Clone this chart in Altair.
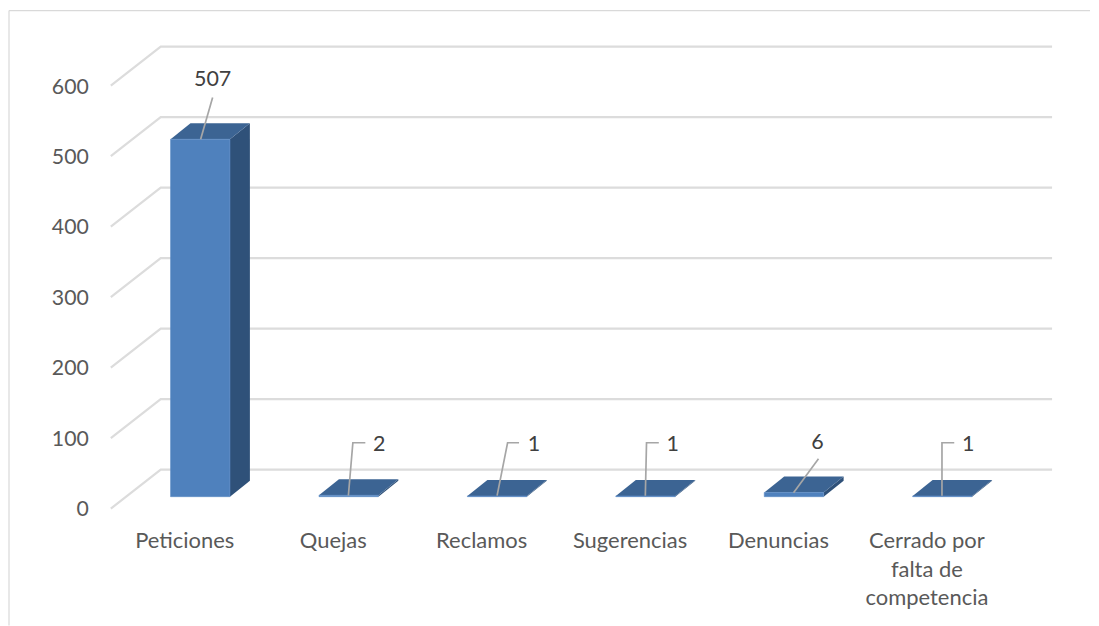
import altair as alt
import pandas as pd

# ---- chart values
CATEGORIES = ["Peticiones", "Quejas", "Reclamos", "Sugerencias", "Denuncias", "Cerrado por falta de competencia"]
VALUES = [507, 2, 1, 1, 6, 1]
TICKS = [0, 100, 200, 300, 400, 500, 600]
CATEGORY_LINES = [["Peticiones"], ["Quejas"], ["Reclamos"], ["Sugerencias"], ["Denuncias"],
                  ["Cerrado por", "falta de", "competencia"]]

# ---- layout: page pixels of the reference
W, H = 1083, 618
PAGE = 8
SLOT = 148.7          # px between categories
X0 = 199.6            # page x of first bar centre
Y0 = 497.0            # page y of value 0 at the bars' front
PPV = 0.7063          # px per value unit
BAR_W = 59.5 / SLOT
DEP_X = 20 / SLOT
DEP_Y = 16 / PPV


def px(x):
    return (x - X0) / SLOT


def py(y):
    return (Y0 - y) / PPV


X_SCALE = alt.Scale(domain=[px(PAGE), px(PAGE + W)], nice=False, zero=False)
Y_SCALE = alt.Scale(domain=[py(PAGE + H), py(PAGE)], nice=False, zero=False)
X = lambda f="x": alt.X(f"{f}:Q", scale=X_SCALE, axis=None, title=None)
Y = lambda f="y": alt.Y(f"{f}:Q", scale=Y_SCALE, axis=None, title=None)

# gridlines: floor-front -> back wall -> right end
FRONT_SHIFT = py(509)
BACK_SHIFT = py(470)
grid = []
for t in TICKS:
    grid += [
        {"t": t, "o": 0, "x": px(110), "y": t + FRONT_SHIFT},
        {"t": t, "o": 1, "x": px(160), "y": t + BACK_SHIFT},
        {"t": t, "o": 2, "x": px(1053), "y": t + BACK_SHIFT},
    ]
grid_layer = alt.Chart(pd.DataFrame(grid)).mark_line(color="#dcdcdc", strokeWidth=2.2, strokeJoin="miter").encode(
    x=X(), y=Y(), detail="t:N", order="o:Q")

# outer frame (top and left only reach the page edges)
frame_top = alt.Chart(pd.DataFrame({"x": [px(8)], "x2": [px(1091)], "y": [py(10)]})).mark_rule(
    color="#d9d9d9", strokeWidth=1.2).encode(x=X(), x2="x2:Q", y=Y())
frame_left = alt.Chart(pd.DataFrame({"x": [px(8)], "y": [py(10)], "y2": [py(626)]})).mark_rule(
    color="#d9d9d9", strokeWidth=1.2).encode(x=X(), y=Y(), y2="y2:Q")

# bars
front, top, side = [], [], []
for i, (c, v) in enumerate(zip(CATEGORIES, VALUES)):
    l, r = i - BAR_W / 2, i + BAR_W / 2
    front.append({"c": c, "l": l, "r": r, "y": v, "y2": 0})
    top += [
        {"c": c, "y": v, "x": l, "x2": r},
        {"c": c, "y": v + DEP_Y, "x": l + DEP_X, "x2": r + DEP_X},
    ]
    side += [
        {"c": c, "x": r, "y": v, "y2": 0},
        {"c": c, "x": r + DEP_X, "y": v + DEP_Y, "y2": DEP_Y},
    ]

side_layer = alt.Chart(pd.DataFrame(side)).mark_area(color="#2f5179", opacity=1).encode(
    x=X(), y=Y(), y2="y2:Q", detail="c:N")
top_layer = alt.Chart(pd.DataFrame(top)).mark_area(orient="horizontal", color="#3c6493", opacity=1).encode(
    y=Y(), x=alt.X("x:Q", scale=X_SCALE, axis=None, title=None, stack=None), x2="x2:Q", detail="c:N")
front_layer = alt.Chart(pd.DataFrame(front)).mark_rect(
    color="#4f81bd", stroke="#5c8cc6", strokeWidth=0.6).encode(
    x=X("l"), x2="r:Q", y=Y("y"), y2="y2:Q")

# leader lines (annotation layout in page pixels)
LEADERS = [
    [(200, 139), (212, 97)],
    [(348, 496), (352.5, 443), (365, 443)],
    [(497, 496), (507.5, 443), (519, 443)],
    [(645.5, 496), (646.7, 443), (659, 443)],
    [(794, 493), (819, 459)],
    [(942.7, 496), (942.7, 443), (955, 443)],
]
LABEL_POS = [(212, 80), (379, 445), (534, 445), (673, 445), (818, 443), (969, 445)]
lead = []
for i, pts in enumerate(LEADERS):
    for o, (x, y) in enumerate(pts):
        lead.append({"i": i, "o": o, "x": px(x), "y": py(y)})
lead_layer = alt.Chart(pd.DataFrame(lead)).mark_line(color="#a6a6a6", strokeWidth=1.7, strokeJoin="miter").encode(
    x=X(), y=Y(), detail="i:N", order="o:Q")

FONT = "Lato"
labels = pd.DataFrame({"x": [px(p[0]) for p in LABEL_POS], "y": [py(p[1]) for p in LABEL_POS],
                       "t": [str(v) for v in VALUES]})
label_layer = alt.Chart(labels).mark_text(font=FONT, fontSize=21.5, color="#404040", baseline="middle").encode(
    x=X(), y=Y(), text="t:N")

# y tick labels
y_labels = pd.DataFrame({"y": [py(510.3 - 70.5 * k) for k in range(len(TICKS))], "x": [px(88)] * len(TICKS),
                         "t": [str(t) for t in TICKS]})
y_label_layer = alt.Chart(y_labels).mark_text(font=FONT, fontSize=21.3, color="#595959", align="right", baseline="middle").encode(
    x=X(), y=Y(), text="t:N")

# x category labels
rows = []
for i, lines in enumerate(CATEGORY_LINES):
    for n, s in enumerate(lines):
        rows.append({"x": i - 15.5 / SLOT, "y": py(541 + 29 * n), "t": s})
x_label_layer = alt.Chart(pd.DataFrame(rows)).mark_text(font=FONT, fontSize=22, color="#595959", baseline="middle").encode(
    x=X(), y=Y(), text="t:N")

chart = alt.layer(
    frame_top, frame_left, grid_layer, side_layer, top_layer, front_layer, lead_layer,
    label_layer, y_label_layer, x_label_layer,
).properties(width=W, height=H, padding=0, background="white").configure_view(stroke=None)

chart.save("out.html", embed_options={"renderer": "svg", "actions": False})
